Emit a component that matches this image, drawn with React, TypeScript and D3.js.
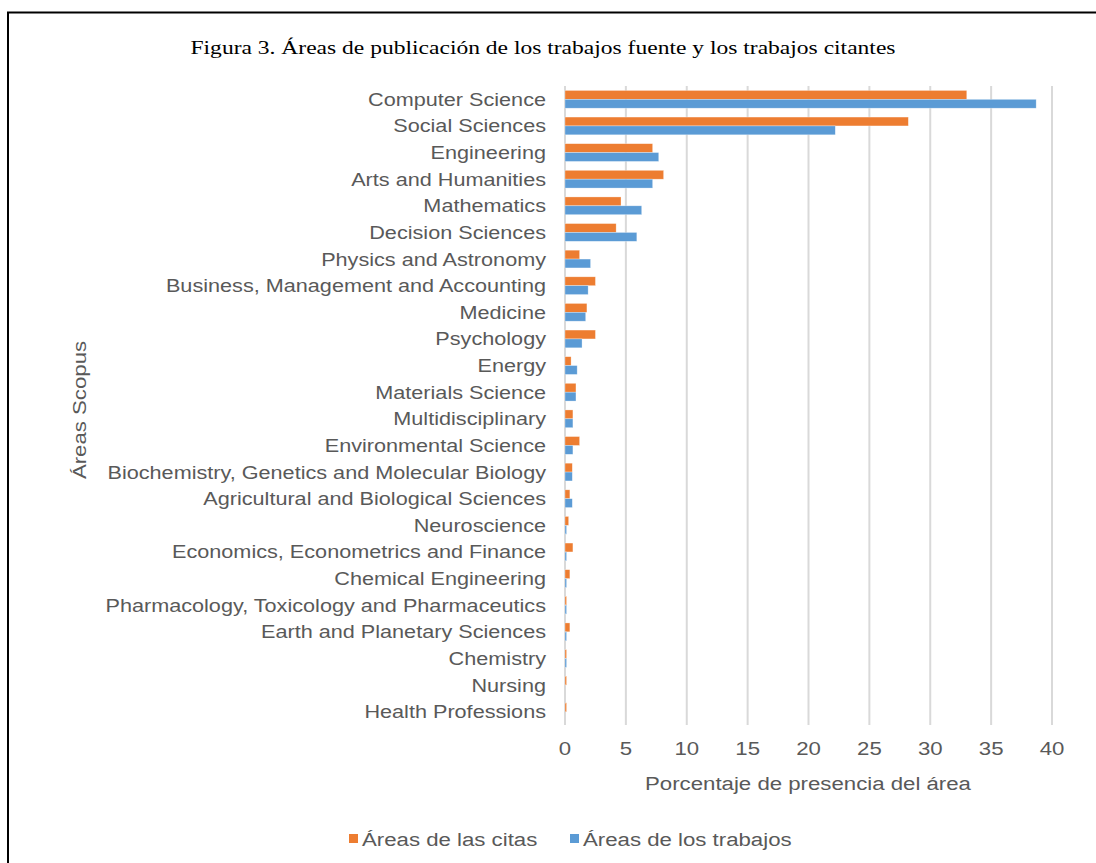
import React from 'react';
import * as d3 from 'd3';

const categories = [
  'Computer Science',
  'Social Sciences',
  'Engineering',
  'Arts and Humanities',
  'Mathematics',
  'Decision Sciences',
  'Physics and Astronomy',
  'Business, Management and Accounting',
  'Medicine',
  'Psychology',
  'Energy',
  'Materials Science',
  'Multidisciplinary',
  'Environmental Science',
  'Biochemistry, Genetics and Molecular Biology',
  'Agricultural and Biological Sciences',
  'Neuroscience',
  'Economics, Econometrics and Finance',
  'Chemical Engineering',
  'Pharmacology, Toxicology and Pharmaceutics',
  'Earth and Planetary Sciences',
  'Chemistry',
  'Nursing',
  'Health Professions',
];

// Áreas de las citas
const citas = [33.0, 28.2, 7.2, 8.1, 4.6, 4.2, 1.2, 2.5, 1.8, 2.5, 0.5, 0.9, 0.65, 1.2, 0.6, 0.4, 0.3, 0.65, 0.4, 0.13, 0.4, 0.13, 0.13, 0.13];
// Áreas de los trabajos
const trabajos = [38.7, 22.2, 7.7, 7.2, 6.3, 5.9, 2.1, 1.9, 1.7, 1.4, 1.0, 0.9, 0.65, 0.65, 0.6, 0.6, 0.13, 0.13, 0.13, 0.13, 0.13, 0.13, 0, 0];

const xTicks = [0, 5, 10, 15, 20, 25, 30, 35, 40];

const series = [
  { name: 'Áreas de las citas', values: citas, color: '#ED7D31' },
  { name: 'Áreas de los trabajos', values: trabajos, color: '#5B9BD5' },
];

const width = 1096;
const height = 863;
const left = 565;
const right = 1052;
const top = 86;
const bottom = 725;
const font = '"Liberation Sans", Arial, sans-serif';
const textColor = '#595959';
const sx = 1.17; // the original's sans text is a bit wider than Liberation Sans

// sans text, stretched horizontally around its anchor point
const Label = ({ x, y, anchor = 'start', size = 19, rotate = 0, children }: any) => (
  <text
    transform={`translate(${x},${y}) rotate(${rotate}) scale(${sx},1)`}
    textAnchor={anchor}
    fontFamily={font}
    fontSize={size}
    fill={textColor}
  >
    {children}
  </text>
);

export default function App() {
  const x = d3.scaleLinear().domain([0, 40]).range([left, right]);
  const y = d3.scaleBand().domain(categories).range([top, bottom]);
  const inner = d3.scaleBand()
    .domain(series.map(s => s.name))
    .range([0, y.bandwidth()])
    .paddingInner(0)
    .paddingOuter(0.5);

  return (
    <svg width={width} height={height} style={{ position: 'absolute', left: 0, top: 0, background: '#fff' }}>
      <rect x={8} y={12.5} width={width + 20} height={height + 20} fill="none" stroke="#000" strokeWidth={2} />

      <text x={543} y={54} textAnchor="middle" fontFamily='"Liberation Serif", serif' fontSize={19} fill="#000"
        textLength={705} lengthAdjust="spacingAndGlyphs">
        Figura 3. Áreas de publicación de los trabajos fuente y los trabajos citantes
      </text>

      {xTicks.map(t => (
        <g key={t}>
          <line x1={x(t)} x2={x(t)} y1={top} y2={bottom} stroke="#d9d9d9" strokeWidth={2} />
          <Label x={x(t)} y={755} anchor="middle">{t}</Label>
        </g>
      ))}

      {series.map(s => (
        <g key={s.name}>
          {categories.map((c, i) => (
            s.values[i] > 0 ? (
              <rect key={c}
                x={x(0)}
                y={(y(c) ?? 0) + (inner(s.name) ?? 0)}
                width={x(s.values[i]) - x(0)}
                height={inner.bandwidth()}
                fill={s.color}
                stroke="#fff"
                strokeOpacity={0.5}
                strokeWidth={0.6}
              />
            ) : null
          ))}
        </g>
      ))}

      {categories.map(c => (
        <Label key={c} x={546} y={(y(c) ?? 0) + y.bandwidth() / 2 + 6.5} anchor="end" size={18.5}>{c}</Label>
      ))}

      <Label x={808} y={790} anchor="middle">Porcentaje de presencia del área</Label>
      <Label x={86} y={410} anchor="middle" rotate={-90}>Áreas Scopus</Label>

      {series.map((s, i) => {
        const lx = i === 0 ? 349 : 570;
        return (
          <g key={s.name}>
            <rect x={lx} y={834} width={9} height={9} fill={s.color} />
            <Label x={lx + 13} y={846}>{s.name}</Label>
          </g>
        );
      })}
    </svg>
  );
}
